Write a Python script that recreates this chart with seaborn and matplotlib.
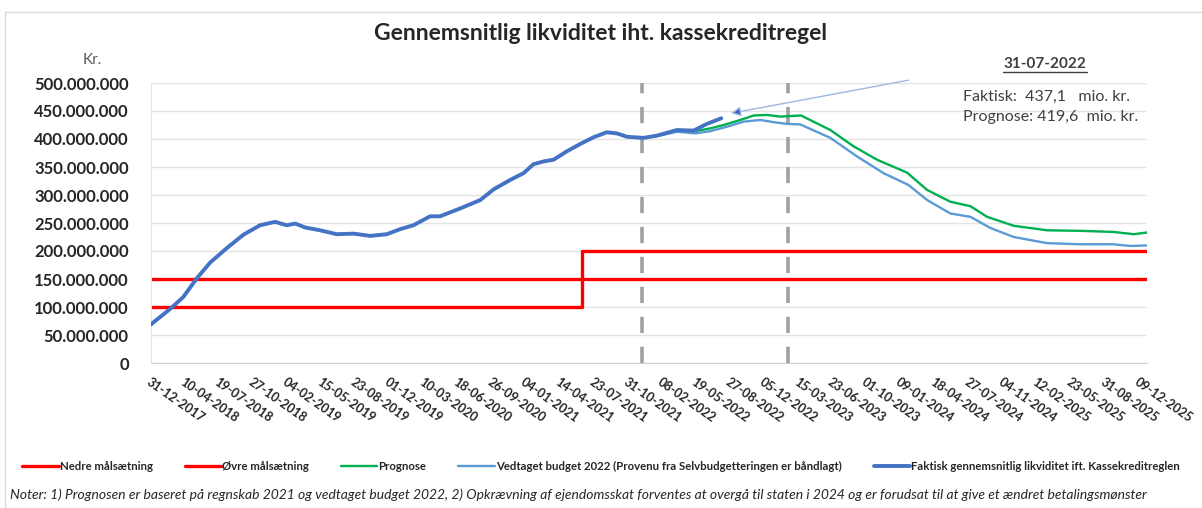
import pandas as pd
import numpy as np
import matplotlib.pyplot as plt
from matplotlib.lines import Line2D
from matplotlib.ticker import FuncFormatter
import seaborn as sns

# dage efter 31-12-2017 og beløb i mio. kr.
start = pd.Timestamp('2017-12-31')
end = pd.Timestamp('2025-12-31')

faktisk_dage = [0, 59, 95, 134, 173, 222, 271, 320, 364, 398, 423, 452, 496, 545, 594,
                643, 692, 731, 770, 819, 848, 907, 966, 1005, 1054, 1093, 1122, 1152,
                1181, 1220, 1259, 1298, 1337, 1367, 1396, 1445, 1484, 1543, 1592, 1631, 1673]
faktisk_mio = [69, 98, 118, 151, 179, 205, 229, 246, 252, 246, 249, 242, 237, 230, 231,
               227, 230, 239, 246, 262, 262, 276, 291, 310, 327, 339, 355, 360,
               363, 378, 391, 403, 412, 410, 404, 402, 406, 416, 415, 427, 437]

budget_dage = [1441, 1484, 1543, 1597, 1641, 1690, 1739, 1788, 1827, 1866, 1905, 1993,
               2071, 2149, 2222, 2277, 2345, 2404, 2463, 2531, 2629, 2727, 2824, 2873, 2922]
budget_mio = [402, 405, 413, 410, 414, 422, 431, 434, 430, 427, 426, 402,
              369, 339, 318, 291, 267, 261, 241, 225, 214, 212, 212, 209, 210]

prognose_dage = [1597, 1641, 1680, 1729, 1768, 1807, 1846, 1907, 1993, 2061, 2130, 2218,
                 2277, 2345, 2404, 2453, 2531, 2629, 2727, 2824, 2883, 2922]
prognose_mio = [414, 419, 425, 434, 442, 443, 440, 442, 416, 387, 363, 340,
                309, 288, 280, 261, 245, 237, 236, 234, 230, 233]

nedre_dage = [0, 2922]
nedre_mio = [150, 150]
oevre_dage = [0, 1265, 1265, 2922]
oevre_mio = [100, 100, 200, 200]

skillelinjer_dage = [1441, 1870]
tick_dage = list(range(0, 3000, 100))


def til_df(dage, mio):
    return pd.DataFrame({'dato': start + pd.to_timedelta(dage, unit='D'),
                         'kr': np.array(mio, dtype=float) * 1e6})


sns.set_style('white')
plt.rcParams['font.family'] = ['Lato', 'DejaVu Sans']

fig = plt.figure(figsize=(12.02, 5.08), dpi=100)
ax = fig.add_axes([151 / 1202, 1 - 363 / 508, (1147 - 151) / 1202, (363 - 83) / 508])

for d in skillelinjer_dage:
    ax.axvline(start + pd.Timedelta(days=d), color='#a0a0a0', lw=2.6,
               dashes=(4.5, 3.8), zorder=1)

kw = dict(x='dato', y='kr', ax=ax, estimator=None, sort=False)
sns.lineplot(data=til_df(nedre_dage, nedre_mio), color='#ff0000', lw=2.4,
             label='Nedre målsætning', zorder=2, **kw)
sns.lineplot(data=til_df(oevre_dage, oevre_mio), color='#ff0000', lw=2.4,
             label='Øvre målsætning', zorder=2, **kw)
sns.lineplot(data=til_df(prognose_dage, prognose_mio), color='#00b050', lw=1.7,
             label='Prognose', zorder=3, **kw)
sns.lineplot(data=til_df(budget_dage, budget_mio), color='#5b9bd5', lw=1.7,
             label='Vedtaget budget 2022 (Provenu fra Selvbudgetteringen er båndlagt)',
             zorder=3, **kw)
sns.lineplot(data=til_df(faktisk_dage, faktisk_mio), color='#4472c4', lw=2.8,
             label='Faktisk gennemsnitlig likviditet ift. Kassekreditreglen', zorder=4, **kw)

handles, labels = ax.get_legend_handles_labels()
ax.get_legend().remove()

ax.set_xlim(start, end)
ax.set_ylim(0, 500e6)
ax.set_yticks(np.arange(0, 500e6 + 1, 50e6))
ax.yaxis.set_major_formatter(FuncFormatter(lambda v, p: f'{int(v):,}'.replace(',', '.')))
ticks = [start + pd.Timedelta(days=d) for d in tick_dage]
ax.set_xticks(ticks)
ax.set_xticklabels([t.strftime('%d-%m-%Y') for t in ticks], rotation=-35,
                   ha='left', va='top', rotation_mode='anchor', fontsize=9, fontweight='bold')
for lab in ax.get_yticklabels():
    lab.set_fontsize(12)
    lab.set_fontweight('bold')
ax.tick_params(axis='y', length=0, pad=16)
ax.tick_params(axis='x', length=5, width=1, color='#bfbfbf', direction='out', pad=4)
ax.grid(axis='y', color='#e3e3e3', lw=1)
ax.set_axisbelow(True)
for s in ['top', 'right']:
    ax.spines[s].set_visible(False)
ax.spines['left'].set_color('#e3e3e3')
ax.spines['bottom'].set_color('#d0d0d0')
ax.set_xlabel('')
ax.set_ylabel('')

# pil mod sidste faktiske værdi
ax.annotate('', xy=(start + pd.Timedelta(days=1702), 446e6),
            xytext=(start + pd.Timedelta(days=2222), 505e6),
            arrowprops=dict(arrowstyle='-|>', ec='#9db8e0', fc='#3a63b8', lw=1,
                            mutation_scale=14, shrinkA=0, shrinkB=0),
            annotation_clip=False)

fig.text(0.5, 1 - 33 / 508, 'Gennemsnitlig likviditet iht. kassekreditregel',
         ha='center', va='center', fontsize=16.5, fontweight='bold')
fig.text(92 / 1202, 1 - 60 / 508, 'Kr.', ha='center', va='center', fontsize=11,
         color='#595959')
fig.text(1045 / 1202, 1 - 64 / 508, '31-07-2022', ha='center', va='center',
         fontsize=11, fontweight='bold', color='#404040')
fig.add_artist(Line2D([1003 / 1202, 1087 / 1202], [1 - 72 / 508, 1 - 72 / 508],
                      color='#404040', lw=1))
fig.text(963 / 1202, 1 - 97 / 508, 'Faktisk:  437,1   mio. kr.', ha='left', va='center',
         fontsize=11.5, color='#404040')
fig.text(963 / 1202, 1 - 117 / 508, 'Prognose: 419,6  mio. kr.', ha='left', va='center',
         fontsize=11.5, color='#404040')

fig.legend(handles, labels, loc='center', bbox_to_anchor=(0.5, 1 - 466 / 508), ncol=5,
           frameon=False, prop={'size': 8.2, 'weight': 'bold'}, handlelength=3.2,
           handletextpad=0.1, columnspacing=2.8)
fig.text(10 / 1202, 1 - 495 / 508,
         'Noter: 1) Prognosen er baseret på regnskab 2021 og vedtaget budget 2022, '
         '2) Opkrævning af ejendomsskat forventes at overgå til staten i 2024 og er '
         'forudsat til at give et ændret betalingsmønster',
         ha='left', va='center', fontsize=10, fontstyle='italic')

fig.add_artist(Line2D([5 / 1202, 5 / 1202], [0, 1 - 12 / 508], color='#d9d9d9', lw=1))
fig.add_artist(Line2D([5 / 1202, 1], [1 - 12 / 508, 1 - 12 / 508], color='#d9d9d9', lw=1))

fig.savefig('out.png', dpi=100, facecolor='white')
